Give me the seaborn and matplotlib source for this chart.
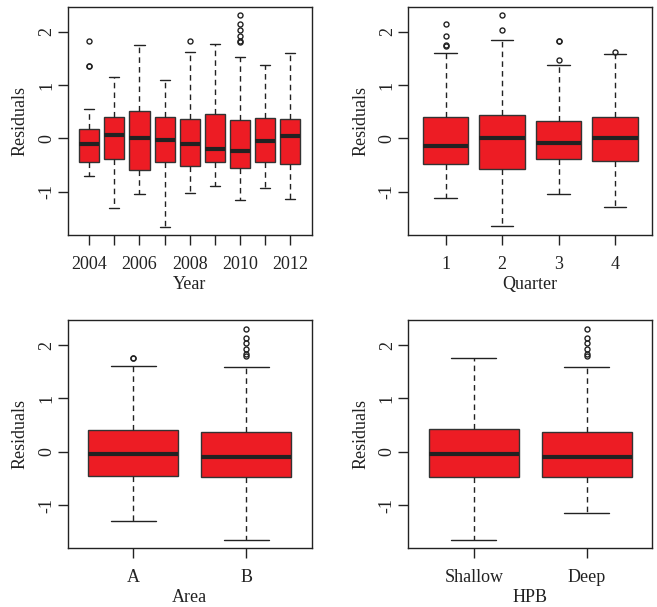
"""Residual boxplots by Year, Quarter, Area and HPB."""

import matplotlib
matplotlib.use("Agg")
import matplotlib.pyplot as plt
import seaborn as sns

# summary stats: q1, median, q3, whisker low/high, outliers
years = ["2004", "2005", "2006", "2007", "2008", "2009", "2010", "2011", "2012"]
year_q1 = [-0.45, -0.39, -0.595, -0.44, -0.51, -0.44, -0.55, -0.44, -0.48]
year_med = [-0.106, 0.056, 0.0, -0.02, -0.11, -0.19, -0.24, -0.056, 0.044]
year_q3 = [0.175, 0.40, 0.51, 0.40, 0.36, 0.45, 0.34, 0.38, 0.36]
year_lo = [-0.70, -1.30, -1.05, -1.66, -1.03, -0.90, -1.16, -0.93, -1.14]
year_hi = [0.56, 1.16, 1.75, 1.10, 1.63, 1.77, 1.52, 1.38, 1.61]
year_out = [[1.83, 1.365, 1.35], [], [], [], [1.83], [],
            [2.32, 2.15, 2.04, 1.93, 1.83, 1.80], [], []]

quarters = ["1", "2", "3", "4"]
quarter_q1 = [-0.48, -0.57, -0.38, -0.42]
quarter_med = [-0.145, 0.0, -0.094, 0.0]
quarter_q3 = [0.40, 0.44, 0.32, 0.40]
quarter_lo = [-1.12, -1.65, -1.04, -1.29]
quarter_hi = [1.61, 1.85, 1.38, 1.58]
quarter_out = [[2.14, 1.93, 1.76, 1.74], [2.31, 2.04], [1.83, 1.82, 1.48], [1.63]]

areas = ["A", "B"]
area_q1 = [-0.46, -0.48]
area_med = [-0.04, -0.10]
area_q3 = [0.41, 0.37]
area_lo = [-1.29, -1.655]
area_hi = [1.61, 1.59]
area_out = [[1.76, 1.75], [2.30, 2.14, 2.04, 1.93, 1.83, 1.80]]

hpb = ["Shallow", "Deep"]
hpb_q1 = [-0.48, -0.48]
hpb_med = [-0.04, -0.10]
hpb_q3 = [0.43, 0.37]
hpb_lo = [-1.655, -1.15]
hpb_hi = [1.76, 1.59]
hpb_out = [[], [2.30, 2.14, 2.04, 1.93, 1.83, 1.80]]

sns.set_style("ticks")
plt.rcParams["font.family"] = ["Liberation Serif", "DejaVu Serif"]

FILL = "#ED1C24"
EDGE = "#333333"


def draw_panel(ax, labels, q1, med, q3, lo, hi, out, xlabel, show_every=1):
    stats = []
    for i, lab in enumerate(labels):
        stats.append({"label": lab, "q1": q1[i], "med": med[i], "q3": q3[i],
                      "whislo": lo[i], "whishi": hi[i], "fliers": out[i]})
    n = len(labels)
    pos = list(range(1, n + 1))
    ax.bxp(stats, positions=pos, widths=0.8, patch_artist=True,
           boxprops=dict(facecolor=FILL, edgecolor=EDGE, linewidth=1.0),
           medianprops=dict(color="#222222", linewidth=3.0, solid_capstyle="butt"),
           whiskerprops=dict(color="#222222", linewidth=1.0, linestyle=(0, (4, 3))),
           capprops=dict(color="#222222", linewidth=1.0),
           capwidths=0.4,
           flierprops=dict(marker="o", markersize=3.6, markerfacecolor="none",
                           markeredgecolor="#222222", markeredgewidth=1.0))
    span = n
    ax.set_xlim(0.5 - 0.04 * span, n + 0.5 + 0.04 * span)
    ax.set_ylim(-1.81, 2.47)
    ax.set_xticks(pos)
    ax.set_xticklabels([lab if i % show_every == 0 else "" for i, lab in enumerate(labels)])
    ax.set_yticks([-1, 0, 1, 2])
    ax.set_yticklabels(["-1", "0", "1", "2"], rotation=90, va="center")
    ax.tick_params(axis="both", direction="out", length=7, width=1.0,
                   color="#222222", labelsize=13, labelcolor="#222222")
    ax.tick_params(axis="x", pad=8)
    ax.tick_params(axis="y", pad=2)
    for s in ax.spines.values():
        s.set_visible(True)
        s.set_color("#222222")
        s.set_linewidth(1.0)
    ax.set_xlabel(xlabel, fontsize=13, color="#222222")
    ax.set_ylabel("Residuals", fontsize=13, color="#222222")
    ax.xaxis.set_label_coords(0.5, -0.215)
    ax.xaxis.label.set_va("center")
    ax.yaxis.set_label_coords(-0.195, 0.5)
    ax.yaxis.label.set_va("center")


fig = plt.figure(figsize=(6.57, 6.07), dpi=100)
W = 244 / 657
H = 228.3 / 607
ax1 = fig.add_axes([67.7 / 657, 1 - 235 / 607, W, H])
ax2 = fig.add_axes([408.3 / 657, 1 - 235 / 607, W, H])
ax3 = fig.add_axes([67.7 / 657, 1 - 548.3 / 607, W, H])
ax4 = fig.add_axes([408.3 / 657, 1 - 548.3 / 607, W, H])

draw_panel(ax1, years, year_q1, year_med, year_q3, year_lo, year_hi, year_out,
           "Year", show_every=2)
draw_panel(ax2, quarters, quarter_q1, quarter_med, quarter_q3, quarter_lo,
           quarter_hi, quarter_out, "Quarter")
draw_panel(ax3, areas, area_q1, area_med, area_q3, area_lo, area_hi, area_out, "Area")
draw_panel(ax4, hpb, hpb_q1, hpb_med, hpb_q3, hpb_lo, hpb_hi, hpb_out, "HPB")

fig.savefig("out.png", dpi=100)
plt.close(fig)
